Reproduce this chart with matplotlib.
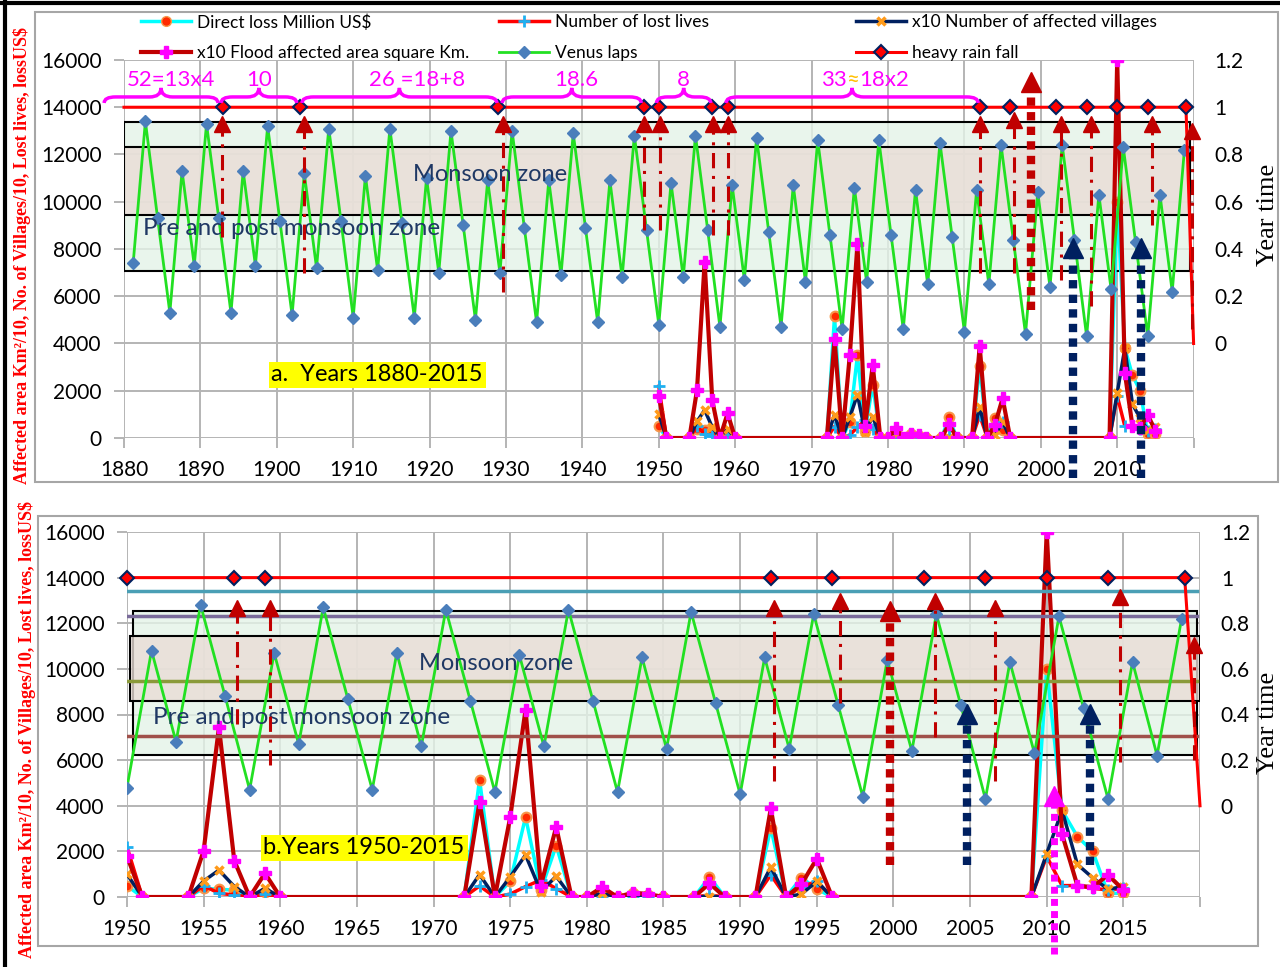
import numpy as np
import matplotlib
matplotlib.use("Agg")
import matplotlib.pyplot as plt
from matplotlib.lines import Line2D
from matplotlib.patches import Rectangle, PathPatch
from matplotlib.path import Path
from matplotlib.colors import to_rgba

plt.rcParams['font.family'] = ['Lato', 'DejaVu Sans']

# flood records (only the years that carry a marker)
flood_years = [1950, 1951, 1954, 1955, 1956, 1957, 1958, 1959, 1960, 1972, 1973, 1974, 1975,
               1976, 1977, 1978, 1979, 1980, 1981, 1982, 1983, 1984, 1985, 1987, 1988, 1989,
               1991, 1992, 1993, 1994, 1995, 1996, 2009, 2010, 2011, 2012, 2013, 2014, 2015]
loss = [490, 0, 0, 380, 340, 300, 0, 200, 0, 0, 5150, 0, 680,
        3500, 310, 2250, 0, 0, 235, 0, 160, 90, 0, 0, 880, 0,
        0, 3030, 0, 850, 350, 0, 0, 10000, 3800, 2650, 2000, 160, 160]
lives = [2190, 0, 0, 500, 160, 90, 0, 130, 0, 0, 485, 0, 130,
         455, 750, 370, 0, 0, 40, 0, 0, 0, 0, 0, 90, 0,
         0, 970, 0, 455, 680, 0, 0, 1780, 500, 500, 380, 310, 380]
villages = [1000, 0, 0, 700, 1180, 460, 0, 380, 0, 0, 985, 0, 880,
            1840, 235, 910, 0, 0, 160, 0, 40, 0, 0, 0, 15, 0,
            0, 1310, 0, 130, 680, 0, 0, 1900, 3800, 1430, 840, 340, 460]
area = [1790, 0, 0, 2030, 7440, 1590, 0, 1040, 0, 0, 4180, 0, 3500,
        8200, 500, 3070, 0, 0, 430, 0, 190, 130, 0, 0, 600, 0,
        0, 3880, 0, 560, 1680, 0, 0, 16000, 2760, 500, 430, 970, 310]

# Venus laps (fraction of the year)
venus_years = [1881.2, 1882.8, 1884.4, 1886.0, 1887.6, 1889.2, 1890.8, 1892.4, 1894.0, 1895.6,
               1897.2, 1898.8, 1900.4, 1902.0, 1903.6, 1905.2, 1906.8, 1908.4, 1910.0, 1911.6,
               1913.2, 1914.8, 1916.4, 1918.0, 1919.6, 1921.2, 1922.8, 1924.4, 1926.0, 1927.6,
               1929.2, 1930.8, 1932.4, 1934.0, 1935.6, 1937.2, 1938.8, 1940.4, 1942.0, 1943.6,
               1945.2, 1946.8, 1948.4, 1950.0, 1951.6, 1953.2, 1954.8, 1956.4, 1958.0, 1959.6,
               1961.2, 1962.8, 1964.4, 1966.0, 1967.6, 1969.2, 1970.8, 1972.4, 1974.0, 1975.6,
               1977.2, 1978.8, 1980.4, 1982.0, 1983.6, 1985.2, 1986.8, 1988.4, 1990.0, 1991.6,
               1993.2, 1994.8, 1996.4, 1998.0, 1999.6, 2001.2, 2002.8, 2004.4, 2006.0, 2007.6,
               2009.2, 2010.8, 2012.4, 2014.0, 2015.6, 2017.2, 2018.8]
venus_laps = [0.34, 0.94, 0.53, 0.13, 0.73, 0.33, 0.93, 0.53, 0.13, 0.73,
              0.33, 0.92, 0.52, 0.12, 0.72, 0.32, 0.91, 0.52, 0.11, 0.71,
              0.31, 0.91, 0.51, 0.11, 0.70, 0.30, 0.90, 0.50, 0.10, 0.69,
              0.30, 0.90, 0.49, 0.09, 0.69, 0.29, 0.89, 0.49, 0.09, 0.69,
              0.28, 0.88, 0.48, 0.08, 0.68, 0.28, 0.88, 0.48, 0.07, 0.67,
              0.27, 0.87, 0.47, 0.07, 0.67, 0.26, 0.86, 0.46, 0.06, 0.66,
              0.26, 0.86, 0.46, 0.06, 0.65, 0.25, 0.85, 0.45, 0.05, 0.65,
              0.25, 0.84, 0.44, 0.04, 0.64, 0.24, 0.84, 0.44, 0.03, 0.63,
              0.23, 0.83, 0.43, 0.03, 0.63, 0.22, 0.82]

# heavy rain fall years
rain_years = [1893, 1903, 1929, 1948, 1950, 1957, 1959, 1992, 1996, 2002, 2006, 2010, 2014, 2019]

# period braces on top of panel a
brace_spans = [(1877.4, 1892.3), (1892.7, 1902.6), (1903.3, 1928.8), (1929.5, 1947.7),
               (1949.7, 1956.8), (1958.8, 1991.8)]
brace_labels = ["52=13x4", "10", "26 =18+8", "18.6", "8", None]
brace_label_x = [1886.2, 1897.7, 1918.4, 1939.2, 1953.2, 1975.4]

# arrows: (year, bottom, top) in year-time units
arrows_a = [(1892.8, 0.45, 0.96), (1903.6, 0.30, 0.96), (1929.6, 0.22, 0.96), (1948.1, 0.48, 0.96),
            (1950.1, 0.48, 0.96), (1957.1, 0.46, 0.96), (1959.1, 0.46, 0.96), (1992.1, 0.30, 0.96),
            (1996.5, 0.30, 0.98), (2002.6, 0.27, 0.96), (2006.6, 0.16, 0.96), (2014.6, 0.50, 0.96),
            (2019.8, 0.06, 0.93)]
arrows_b = [(1957.2, 0.36, 0.90), (1959.3, 0.18, 0.90), (1992.2, 0.11, 0.90), (1996.5, 0.45, 0.93),
            (2002.7, 0.30, 0.93), (2006.6, 0.11, 0.90), (2014.8, 0.19, 0.95), (2019.6, 0.20, 0.74)]

DARKRED = '#c00000'
NAVY = '#002060'
MAG = '#ff00ff'

fig = plt.figure(figsize=(12.8, 9.67), dpi=100)

# frames
fig.add_artist(Rectangle((35/1280, 1-482/967), 1243/1280, 470/967, transform=fig.transFigure,
                         fill=False, ec='#a6a6a6', lw=1.5))
fig.add_artist(Rectangle((38/1280, 1-946/967), 1220/1280, 430/967, transform=fig.transFigure,
                         fill=False, ec='#a6a6a6', lw=1.5))
fig.add_artist(Line2D([0, 1], [0.997, 0.997], transform=fig.transFigure, color='black', lw=3))
fig.add_artist(Line2D([0.004, 0.004], [0, 1], transform=fig.transFigure, color='black', lw=3))


def to_left(v):
    return 4000 + 10000 * v


def setup(ax, x0, x1, step):
    ax.set_xlim(x0, x1)
    ax.set_ylim(0, 16000)
    ticks = list(range(x0, x1 + 1, step))
    ax.set_xticks(ticks)
    ax.set_xticklabels([str(t) if t < x1 else '' for t in ticks])
    ax.set_yticks(range(0, 16001, 2000))
    ax.set_axisbelow(True)
    ax.grid(True, color='#b4b4b4', lw=1.4)
    for s in ax.spines.values():
        s.set_visible(False)
    ax.tick_params(axis='both', colors='#b4b4b4', labelcolor='black', labelsize=15,
                   length=7, width=1.4, pad=9)
    ax2 = ax.twinx()
    ax2.set_ylim(-0.4, 1.2)
    ax2.set_yticks([0, 0.2, 0.4, 0.6, 0.8, 1.0, 1.2])
    ax2.set_yticklabels(['0', '0.2', '0.4', '0.6', '0.8', '1', '1.2'])
    for s in ax2.spines.values():
        s.set_visible(False)
    ax2.tick_params(length=0, labelsize=15, pad=15)
    return ax2


def zones(ax, outer, inner):
    for (x0, x1, lo, hi), fc in ((outer, '#e4f3e8'), (inner, '#e9ddd6')):
        ax.add_patch(Rectangle((x0, to_left(lo)), x1 - x0, to_left(hi) - to_left(lo),
                               fc=to_rgba(fc, 0.8), ec='black', lw=1.5, zorder=1))


def flood(ax):
    ax.plot(flood_years, loss, color='#00ffff', lw=2.5, marker='o', ms=7,
            mfc='#ff2a00', mec='#f7964a', mew=1.5, zorder=3)
    ax.plot(flood_years, lives, color='#ff0000', lw=2.5, marker='+', ms=9,
            mec='#1fb0f0', mew=2, zorder=3)
    ax.plot(flood_years, villages, color=NAVY, lw=2.5, marker='x', ms=6,
            mec='#ff9a1a', mew=2.5, zorder=3)
    ax.plot(flood_years, area, color=DARKRED, lw=3, marker='P', ms=8,
            mfc=MAG, mec=MAG, zorder=3)


def arrow(ax, x, y0, y1, color, ls, lw, ms, ppu):
    head = ms * 1.389 / ppu
    ax.plot([x, x], [y0, y1 - head * 0.9], color=color, lw=lw, ls=ls, clip_on=False,
            solid_capstyle='butt', dash_capstyle='butt', zorder=5)
    ax.plot([x], [y1 - head / 2], marker='^', ms=ms, color=color, ls='none', clip_on=False, zorder=5)


DASHDOT = (0, (5, 2.5, 1, 2.5))
DOTTED = (0, (1, 0.75))


def brace(ax, x0, x1, y0, h):
    xm = (x0 + x1) / 2
    q = min(1.5, (x1 - x0) / 5)
    ya = y0 + h * 0.4
    verts = [(x0, y0), (x0, ya), (x0 + q, ya), (xm - q, ya), (xm, ya), (xm, y0 + h),
             (xm, ya), (xm + q, ya), (x1 - q, ya), (x1, ya), (x1, y0)]
    codes = [Path.MOVETO, Path.CURVE3, Path.CURVE3, Path.LINETO, Path.CURVE3, Path.CURVE3,
             Path.CURVE3, Path.CURVE3, Path.LINETO, Path.CURVE3, Path.CURVE3]
    ax.add_patch(PathPatch(Path(verts, codes), fc='none', ec=MAG, lw=2.5, clip_on=False, zorder=6))


# ---------------- panel a ----------------
axa = fig.add_axes([124/1280, 1-438/967, 1069.6/1280, 378/967])
axa2 = setup(axa, 1880, 2020, 10)
zones(axa, (1880, 2019.5, 0.308, 0.939), (1880, 2019.5, 0.545, 0.831))
flood(axa)
axa2.plot(venus_years, venus_laps, color='#22e022', lw=2, marker='D', ms=6,
          mfc='#4a7ebb', mec='#4a7ebb', zorder=3)
ra_x = [1880] + rain_years + [2020]
ra_y = [1] + [1] * len(rain_years) + [0]
axa2.plot(ra_x, ra_y, color='#ff0000', lw=2.2, marker='D', ms=7, mfc='#ff0000', mec=NAVY,
          mew=1.5, markevery=list(range(1, len(rain_years) + 1)), clip_on=False, zorder=4)
for x, y0, y1 in arrows_a:
    arrow(axa2, x, y0, y1, DARKRED, DASHDOT, 2.2, 11, 236.7)
arrow(axa2, 1998.7, 0.14, 1.15, DARKRED, DOTTED, 6, 15, 236.7)
arrow(axa2, 2004.2, -0.57, 0.45, NAVY, DOTTED, 6, 15, 236.7)
arrow(axa2, 2013.1, -0.57, 0.45, NAVY, DOTTED, 6, 15, 236.7)
for (x0, x1) in brace_spans:
    brace(axa2, x0, x1, 1.018, 0.064)
for lab, xl in zip(brace_labels, brace_label_x):
    if lab:
        axa2.text(xl, 1.115, lab, color=MAG, fontsize=16, ha='center', va='center', clip_on=False)
axa2.text(1974.6, 1.115, "33", color=MAG, fontsize=16, ha='right', va='center')
axa2.text(1975.4, 1.115, "\u2248", color='#ffc000', fontsize=16, ha='center', va='center')
axa2.text(1976.2, 1.115, "18x2", color=MAG, fontsize=16, ha='left', va='center')
axa2.text(1927.9, 0.714, "Monsoon zone", color='#1f3864', fontsize=17, ha='center', va='center')
axa2.text(1882.5, 0.486, "Pre and post monsoon zone", color='#1f3864', fontsize=17.5, ha='left', va='center')
axa.text(1899.3, 2670, "a.  Years 1880-2015", fontsize=17, ha='left', va='center', zorder=7,
         bbox=dict(fc='#ffff00', ec='none', pad=2))

# ---------------- panel b ----------------
axb = fig.add_axes([127/1280, 1-897/967, 1073/1280, 365/967])
axb2 = setup(axb, 1950, 2020, 5)
zones(axb, (1950.4, 2019.8, 0.224, 0.855), (1950.2, 2020, 0.461, 0.746))
flood(axb)
for lvl, c in ((0.943, '#4a9fb5'), (0.830, '#7a6b9a'), (0.548, '#8a9a3a'), (0.307, '#a0504a')):
    axb2.plot([1950, 2019.8], [lvl, lvl], color=c, lw=2.5, zorder=2)
vb = [i for i, y in enumerate(venus_years) if y >= 1949.9]
axb2.plot([venus_years[i] for i in vb], [venus_laps[i] for i in vb], color='#22e022', lw=2,
          marker='D', ms=6, mfc='#4a7ebb', mec='#4a7ebb', zorder=3)
rb = [y for y in rain_years if y >= 1950]
axb2.plot(rb + [2020], [1] * len(rb) + [0], color='#ff0000', lw=2.2, marker='D', ms=7,
          mfc='#ff0000', mec=NAVY, mew=1.5, markevery=list(range(len(rb))), clip_on=False, zorder=4)
for x, y0, y1 in arrows_b:
    arrow(axb2, x, y0, y1, DARKRED, DASHDOT, 2.2, 11, 228)
arrow(axb2, 1999.8, -0.26, 0.90, DARKRED, DOTTED, 6, 15, 228)
arrow(axb2, 2004.8, -0.26, 0.45, NAVY, DOTTED, 6, 15, 228)
arrow(axb2, 2012.8, -0.26, 0.45, NAVY, DOTTED, 6, 15, 228)
arrow(axb2, 2010.5, -0.65, 0.09, MAG, DOTTED, 5, 15, 228)
axb2.text(1974.1, 0.623, "Monsoon zone", color='#1f3864', fontsize=17, ha='center', va='center')
axb2.text(1951.7, 0.386, "Pre and post monsoon zone", color='#1f3864', fontsize=17.5, ha='left', va='center')
axb.text(1958.9, 2150, "b.Years 1950-2015", fontsize=17, ha='left', va='center', zorder=7,
         bbox=dict(fc='#ffff00', ec='none', pad=2))

# axis titles
ylab = "Affected area Km\u00b2/10, No. of Villages/10, Lost lives, lossUS$"
fig.text(22/1280, 1-255/967, ylab, rotation=90, color='red', fontsize=13, fontweight='bold',
         family='Liberation Serif', ha='center', va='center')
fig.text(27/1280, 1-730/967, ylab, rotation=90, color='red', fontsize=13, fontweight='bold',
         family='Liberation Serif', ha='center', va='center')
fig.text(1268/1280, 1-215/967, "Year time", rotation=90, fontsize=19, family='Liberation Serif',
         ha='center', va='center')
fig.text(1268/1280, 1-723/967, "Year time", rotation=90, fontsize=19, family='Liberation Serif',
         ha='center', va='center')

# legend, three columns
h_loss = Line2D([], [], color='#00ffff', lw=2.5, marker='o', ms=7, mfc='#ff2a00', mec='#f7964a')
h_lives = Line2D([], [], color='#ff0000', lw=2.5, marker='+', ms=9, mec='#1fb0f0', mew=2)
h_vill = Line2D([], [], color=NAVY, lw=2.5, marker='x', ms=6, mec='#ff9a1a', mew=2.5)
h_area = Line2D([], [], color=DARKRED, lw=3, marker='P', ms=8, mfc=MAG, mec=MAG)
h_venus = Line2D([], [], color='#22e022', lw=2, marker='D', ms=6, mfc='#4a7ebb', mec='#4a7ebb')
h_rain = Line2D([], [], color='#ff0000', lw=2.2, marker='D', ms=7, mfc='#ff0000', mec=NAVY, mew=1.5)
cols = [([h_loss, h_area], ["Direct loss Million US$", "x10 Flood affected area square Km."], 141),
        ([h_lives, h_venus], ["Number of lost lives", "Venus laps"], 499),
        ([h_vill, h_rain], ["x10 Number of affected villages", "heavy rain fall"], 856)]
for hs, ls, xp in cols:
    fig.legend(hs, ls, loc='upper left', bbox_to_anchor=(xp/1280, 1-14/967), frameon=False,
               fontsize=12.5, handlelength=2.9, handletextpad=0.3, borderpad=0, borderaxespad=0,
               labelspacing=0.85)

fig.savefig("out.png", dpi=100)
